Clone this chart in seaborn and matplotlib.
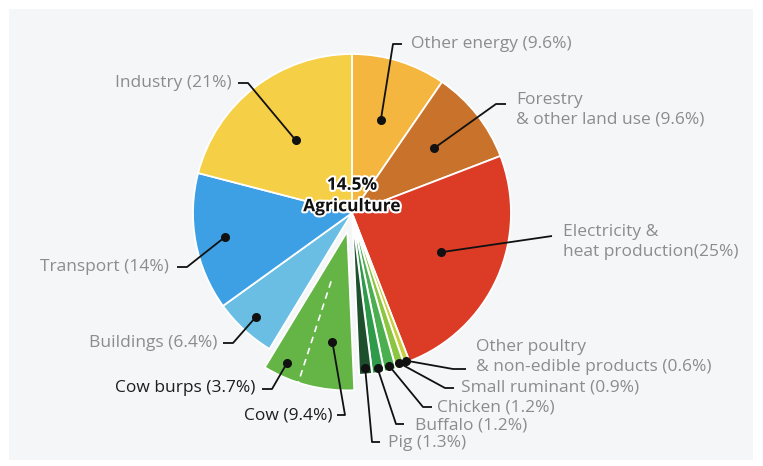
import numpy as np
import matplotlib.pyplot as plt
import matplotlib.patheffects as pe
from matplotlib.patches import Rectangle
import seaborn as sns

# slices, clockwise from 12 o'clock
sectors = ["Other energy", "Forestry", "Electricity", "Other poultry", "Small ruminant",
           "Chicken", "Buffalo", "Pig", "Cow", "Buildings", "Transport", "Industry"]
shares = [9.6, 9.6, 25, 0.6, 0.9, 1.2, 1.2, 1.3, 9.4, 6.4, 14, 21]
labels = ["Other energy (9.6%)", "Forestry\n& other land use (9.6%)",
          "Electricity &\nheat production(25%)", "Other poultry\n& non-edible products (0.6%)",
          "Small ruminant (0.9%)", "Chicken (1.2%)", "Buffalo (1.2%)", "Pig (1.3%)",
          "Cow (9.4%)", "Buildings (6.4%)", "Transport (14%)", "Industry (21%)"]
colors = ["#F4B63E", "#C8722B", "#DC3B26", "#C9CF3C", "#8CC640", "#4BAF4F", "#2E9A4A",
          "#1D4F2C", "#65B446", "#6ABDE3", "#3DA0E5", "#F5CF46"]
agriculture = ["Other poultry", "Small ruminant", "Chicken", "Buffalo", "Pig", "Cow"]
cow_burps_share = 3.7
cow_burps_label = "Cow burps (3.7%)"
center_label = "14.5%\nAgriculture"

W, H = 763, 466
CX, CY, R = 352, 213, 159
FS = 12.5


def py(y):
    # pixel row -> data y
    return H - y


sns.set_theme(style="white")
plt.rcParams['font.family'] = ['Open Sans', 'DejaVu Sans']

fig = plt.figure(figsize=(W / 100, H / 100), dpi=100)
fig.patch.set_facecolor("white")
ax = fig.add_axes([0, 0, 1, 1])
ax.add_patch(Rectangle((9, py(460)), 744, 451, facecolor="#F5F6F8", edgecolor="none", zorder=0))

# explode is an offset in data units (pixels here)
explode = [19 if s == "Cow" else (3 if s in agriculture else 0) for s in sectors]
wedges, _ = ax.pie(shares, colors=colors, startangle=90, counterclock=False, explode=explode,
                   radius=R, center=(CX, py(CY)),
                   wedgeprops=dict(edgecolor="white", linewidth=1.3))
ax.set_xlim(0, W)
ax.set_ylim(0, H)
ax.set_aspect("equal")
ax.axis("off")

total = sum(shares)
cow = wedges[sectors.index("Cow")]
burps_edge = cow.theta1 + 360 * cow_burps_share / total
# dashed line splitting cow burps out of the cow slice
t = np.radians(burps_edge)
ccx, ccy = cow.center
ax.plot([ccx + 0.33 * R * np.cos(t), ccx + R * np.cos(t)],
        [ccy + 0.33 * R * np.sin(t), ccy + R * np.sin(t)],
        color="white", lw=1.2, ls=(0, (4, 3)), zorder=5)

# dot radius (fraction) and label layout in pixels: elbow, line end, text anchor
layout = {
    "Other energy":   (0.61, (393, 44), (402, 44), (411, 44), "left"),
    "Forestry":       (0.66, (496, 104), (506, 104), (516, 110), "left"),
    "Electricity":    (0.61, (552, 236), (552, 236), (563, 242), "left"),
    "Other poultry":  (0.97, (453, 369), (466, 369), (476, 357), "left"),
    "Small ruminant": (0.97, (445, 388), (454, 388), (461, 388), "left"),
    "Chicken":        (0.97, (423, 407), (432, 407), (437, 407), "left"),
    "Buffalo":        (0.97, (396, 424), (404, 424), (415, 425), "left"),
    "Pig":            (0.96, (372, 442), (380, 442), (388, 443), "left"),
    "Cow":            (0.70, (345, 415), (337, 415), (333, 415), "right"),
    "Buildings":      (0.89, (233, 343), (223, 343), (217, 343), "right"),
    "Transport":      (0.81, (187, 267), (177, 267), (169, 267), "right"),
    "Industry":       (0.58, (248, 83), (238, 83), (232, 83), "right"),
}


def leader(ang, frac, w, elbow, end, txt, ha, text, color):
    a = np.radians(ang)
    x0 = w.center[0] + frac * R * np.cos(a)
    y0 = w.center[1] + frac * R * np.sin(a)
    ax.plot([x0, elbow[0], end[0]], [y0, py(elbow[1]), py(end[1])],
            color="#111111", lw=1.3, zorder=6, solid_capstyle="butt")
    ax.plot(x0, y0, "o", color="#111111", ms=5.5, zorder=7)
    ax.text(txt[0], py(txt[1]), text, ha=ha, va="center", fontsize=FS,
            color=color, linespacing=1.32, zorder=8)


for s, w, lab in zip(sectors, wedges, labels):
    frac, elbow, end, txt, ha = layout[s]
    mid = (w.theta1 + w.theta2) / 2
    color = "#8C8C8C"
    if s == "Cow":
        mid = (burps_edge + w.theta2) / 2
        color = "#1E1E1E"
    leader(mid, frac, w, elbow, end, txt, ha, lab, color)

leader((cow.theta1 + burps_edge) / 2, 0.91, cow, (272, 389), (262, 389), (255, 388),
       "right", cow_burps_label, "#1E1E1E")

ax.text(CX, py(195.5), center_label, ha="center", va="center", fontsize=12.5,
        fontweight="bold", color="#111111", linespacing=1.25, zorder=9,
        path_effects=[pe.withStroke(linewidth=3, foreground="white")])

fig.savefig("out.png", dpi=100)
